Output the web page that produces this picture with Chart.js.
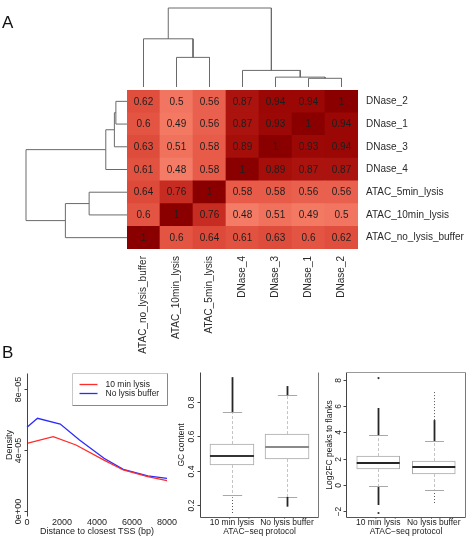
<!DOCTYPE html>
<html>
<head>
<meta charset="utf-8">
<title>ATAC vs DNase</title>
<script src="https://cdn.jsdelivr.net/npm/chart.js@4.4.1/dist/chart.umd.min.js"></script>
<style>
  body { margin: 0; background: #fff; }
  #fig { position: relative; width: 471px; height: 539px; overflow: hidden; font-family: "Liberation Sans", Arial, sans-serif; }
  #fig canvas { position: absolute; }
  .panel { position: absolute; left: 2px; font-size: 17px; line-height: 17px; color: #111; }
</style>
</head>
<body>
<div id="fig">
  <canvas id="heat" width="471" height="362" style="left:0;top:0"></canvas>
  <canvas id="topTree" width="231" height="92" style="left:127px;top:0"></canvas>
  <canvas id="sideTree" width="127" height="159" style="left:0;top:90px"></canvas>
  <canvas id="dens" width="180" height="174" style="left:0;top:365px"></canvas>
  <canvas id="gc" width="165" height="174" style="left:160px;top:365px"></canvas>
  <canvas id="fc" width="151" height="174" style="left:320px;top:365px"></canvas>
  <div class="panel" style="top:14px">A</div>
  <div class="panel" style="top:344px">B</div>
</div>
<script>
const fam = '"Liberation Sans", Arial, sans-serif'
Chart.defaults.font.family = fam

// ---- panel A: correlation heatmap ----
const colLabels = ["ATAC_no_lysis_buffer", "ATAC_10min_lysis", "ATAC_5min_lysis", "DNase_4", "DNase_3", "DNase_1", "DNase_2"]
const rowLabels = ["DNase_2", "DNase_1", "DNase_3", "DNase_4", "ATAC_5min_lysis", "ATAC_10min_lysis", "ATAC_no_lysis_buffer"]
const corrRows = [
  [0.62, 0.5, 0.56, 0.87, 0.94, 0.94, 1],
  [0.6, 0.49, 0.56, 0.87, 0.93, 1, 0.94],
  [0.63, 0.51, 0.58, 0.89, 1, 0.93, 0.94],
  [0.61, 0.48, 0.58, 1, 0.89, 0.87, 0.87],
  [0.64, 0.76, 1, 0.58, 0.58, 0.56, 0.56],
  [0.6, 1, 0.76, 0.48, 0.51, 0.49, 0.5],
  [1, 0.6, 0.64, 0.61, 0.63, 0.6, 0.62]
]
// hclust merges: strings are leaves, numbers point to an earlier merge (1-based)
const treeMerges = [["DNase_1", "DNase_2"], ["DNase_3", 1], ["DNase_4", 2], ["ATAC_10min_lysis", "ATAC_5min_lysis"], ["ATAC_no_lysis_buffer", 4], [5, 3]]
const treeHeights = [0.11, 0.125, 0.21, 0.375, 0.61, 1]

// ---- panel B: density of distance to TSS ----
const densSeries = ["10 min lysis", "No lysis buffer"]
const distRed = [0, 1500, 2800, 4400, 5500, 6900, 8000]
const densRed = [4.44e-5, 4.87e-5, 4.33e-5, 3.34e-5, 2.69e-5, 2.25e-5, 1.99e-5]
const distBlue = [0, 600, 1900, 3000, 4400, 5500, 6900, 8000]
const densBlue = [5.49e-5, 6.08e-5, 5.7e-5, 4.66e-5, 3.46e-5, 2.73e-5, 2.31e-5, 2.14e-5]
const densTicks = [0, 4e-5, 8e-5]
const densTickLabels = ["0e+00", "4e\u221205", "8e\u221205"]
const distTicks = [0, 2000, 4000, 6000, 8000]
const distTickLabels = ["0", "2000", "4000", "6000", "8000"]

// ---- panel B: box plots ----
const protocols = ["10 min lysis", "No lysis buffer"]
const gcQuart = [[0.433, 0.555], [0.468, 0.613]]
const gcMedian = [0.485, 0.538]
const gcWhisker = [[0.26, 0.742], [0.247, 0.84]]
const gcDense = [[[0.742, 0.945]], [[0.84, 0.893], [0.19, 0.247]]]
const gcSparse = [[[0.153, 0.245]], []]
const gcPoints = [[], []]
const gcTicks = [0.2, 0.4, 0.6, 0.8]
const gcTickLabels = ["0.2", "0.4", "0.6", "0.8"]

const fcQuart = [[1.22, 2.2], [0.84, 1.83]]
const fcMedian = [1.67, 1.37]
const fcWhisker = [[-0.1, 3.8], [-0.4, 3.35]]
const fcDense = [[[3.8, 5.86], [-1.52, -0.15]], [[3.35, 4.94]]]
const fcSparse = [[], [[4.94, 7.2], [-1.37, -0.61]]]
const fcPoints = [[8.14, -2.13], []]
const fcTicks = [-2, 0, 2, 4, 6, 8]
const fcTickLabels = ["\u22122", "0", "2", "4", "6", "8"]

const heatStops = [[0.48, [244, 124, 102]], [0.6, [228, 84, 66]], [0.76, [198, 44, 34]], [0.9, [164, 12, 8]], [1, [138, 0, 0]]]

function heatColor(v) {
  for (let i = 1; i < heatStops.length; i++) {
    const [v0, c0] = heatStops[i - 1], [v1, c1] = heatStops[i]
    if (v <= v1 || i === heatStops.length - 1) {
      const t = Math.max(0, Math.min(1, (v - v0) / (v1 - v0)))
      const c = c0.map((a, j) => Math.round(a + (c1[j] - a) * t))
      return `rgb(${c.join(",")})`
    }
  }
}

function text(ctx, s, x, y, opt) {
  ctx.save()
  ctx.font = opt.font
  ctx.fillStyle = opt.color || "#222"
  ctx.textAlign = opt.align || "center"
  ctx.textBaseline = "middle"
  ctx.translate(x, y)
  if (opt.rot) ctx.rotate(opt.rot)
  ctx.fillText(s, 0, 0)
  ctx.restore()
}

function seg(ctx, x0, y0, x1, y1, color, lw, dash) {
  ctx.save()
  ctx.strokeStyle = color
  ctx.lineWidth = lw || 1
  ctx.setLineDash(dash || [])
  ctx.beginPath()
  ctx.moveTo(x0, y0)
  ctx.lineTo(x1, y1)
  ctx.stroke()
  ctx.restore()
}

function baseOpts(pad, scales) {
  return {
    responsive: false,
    animation: false,
    events: [],
    layout: { padding: pad },
    plugins: { legend: { display: false }, tooltip: { enabled: false } },
    scales
  }
}

// heatmap: one stacked bar per cell, bottom row first
const heatLabels = {
  id: "heatLabels",
  afterDatasetsDraw(chart) {
    const { ctx, chartArea: a, scales: { x, y } } = chart
    chart.data.datasets.forEach((ds, k) => {
      chart.getDatasetMeta(k).data.forEach((bar, c) => {
        const p = bar.getProps(["x", "y", "base"], true)
        text(ctx, String(ds.corr[c]), p.x, (p.y + p.base) / 2 + 0.5, { font: "10px " + fam, color: "#1e1e1e" })
      })
    })
    rowLabels.forEach((r, i) => {
      text(ctx, r, a.right + 8, y.getPixelForValue(rowLabels.length - i - 0.5), { font: "10px " + fam, align: "left", color: "#2a2a2a" })
    })
    colLabels.forEach((c, i) => {
      text(ctx, c, x.getPixelForValue(i), a.bottom + 7, { font: "10px " + fam, align: "right", color: "#2a2a2a", rot: -Math.PI / 2 })
    })
  }
}

new Chart(document.getElementById("heat"), {
  type: "bar",
  data: {
    labels: colLabels,
    datasets: rowLabels.slice().reverse().map(row => {
      const vals = corrRows[rowLabels.indexOf(row)]
      return {
        label: row,
        corr: vals,
        data: vals.map(() => 1),
        backgroundColor: vals.map(heatColor),
        borderWidth: 0,
        barPercentage: 1,
        categoryPercentage: 1
      }
    })
  },
  options: baseOpts({ left: 127, top: 90, right: 113, bottom: 113 }, {
    x: { stacked: true, display: false },
    y: { stacked: true, min: 0, max: rowLabels.length, display: false }
  }),
  plugins: [heatLabels]
})

// dendrograms
function treeLinks(order) {
  const pos = [], hgt = []
  const node = n => typeof n === "string" ? [order.indexOf(n), 0] : [pos[n - 1], hgt[n - 1]]
  return treeMerges.map((m, i) => {
    const [pa, ha] = node(m[0]), [pb, hb] = node(m[1]), h = treeHeights[i]
    pos.push((pa + pb) / 2)
    hgt.push(h)
    return [[pa, ha], [pa, h], [pb, h], [pb, hb]]
  })
}

const treeLine = { showLine: true, pointRadius: 0, borderColor: "#6a6a6a", borderWidth: 1, tension: 0, clip: false }

new Chart(document.getElementById("topTree"), {
  type: "scatter",
  data: { datasets: treeLinks(colLabels).map(l => ({ ...treeLine, data: l.map(([p, h]) => ({ x: p, y: h })) })) },
  options: baseOpts({ left: 0, right: 0, top: 8, bottom: 5 }, {
    x: { type: "linear", min: -0.5, max: colLabels.length - 0.5, display: false },
    y: { type: "linear", min: 0, max: 1, display: false }
  })
})

new Chart(document.getElementById("sideTree"), {
  type: "scatter",
  data: { datasets: treeLinks(rowLabels).map(l => ({ ...treeLine, data: l.map(([p, h]) => ({ x: h, y: p })) })) },
  options: baseOpts({ left: 26, right: 0, top: 0, bottom: 0 }, {
    x: { type: "linear", min: 0, max: 1, reverse: true, display: false },
    y: { type: "linear", min: -0.5, max: rowLabels.length - 0.5, reverse: true, display: false }
  })
})

// R-like axes drawn on the chart's own scales
function rAxes(set) {
  return {
    id: "rAxes",
    afterDraw(chart) {
      const { ctx, chartArea: a, scales: { x, y } } = chart
      const L = Math.round(a.left) + 0.5, R = Math.round(a.right) - 0.5
      const T = Math.round(a.top) + 0.5, B = Math.round(a.bottom) - 0.5
      const f = set.font
      seg(ctx, L, T, L, B, "#444")
      if (set.frame.includes("b")) seg(ctx, L, B, R, B, "#555")
      if (set.frame.includes("r")) seg(ctx, R, T, R, B, "#777")
      if (set.frame.includes("t")) seg(ctx, L, T, R, T, "#999")
      set.yTicks.forEach((v, i) => {
        const py = Math.round(y.getPixelForValue(v)) + 0.5
        seg(ctx, L - 3, py, L, py, "#444")
        text(ctx, set.yLabels[i], a.left - set.yLabOff, py, { font: f, rot: -Math.PI / 2 })
      })
      text(ctx, set.yTitle, a.left - set.yTitleOff, (a.top + a.bottom) / 2, { font: f, rot: -Math.PI / 2 })
      set.xTicks.forEach((v, i) => {
        text(ctx, set.xLabels[i], x.getPixelForValue(v), a.bottom + set.xLabOff, { font: f })
      })
      text(ctx, set.xTitle, (a.left + a.right) / 2, a.bottom + set.xTitleOff, { font: f })
    }
  }
}

const densLegend = {
  id: "densLegend",
  afterDraw(chart) {
    const { ctx, chartArea: a } = chart
    const right = Math.round(a.right) + 0.5, left = right - 95, top = Math.round(a.top) + 0.5, bottom = top + 32
    ctx.save()
    ctx.fillStyle = "#fff"
    ctx.fillRect(left, top, right - left, bottom - top)
    ctx.restore()
    seg(ctx, left, top, right, top, "#c8c8c8")
    seg(ctx, left, top, left, bottom, "#c8c8c8")
    seg(ctx, right, top, right, bottom, "#888")
    seg(ctx, left, bottom, right, bottom, "#888")
    chart.data.datasets.forEach((ds, i) => {
      const yy = top + 11 + i * 9
      seg(ctx, left + 7, yy, left + 25, yy, ds.borderColor, 1.3)
      text(ctx, ds.label, left + 33, yy, { font: "8.5px " + fam, align: "left", color: "#222" })
    })
  }
}

const curve = { showLine: true, pointRadius: 0, borderWidth: 1.3, tension: 0, clip: false }

new Chart(document.getElementById("dens"), {
  type: "scatter",
  data: {
    datasets: [
      { ...curve, label: densSeries[0], borderColor: "#ff2b2b", data: distRed.map((d, i) => ({ x: d, y: densRed[i] })) },
      { ...curve, label: densSeries[1], borderColor: "#2b2bff", data: distBlue.map((d, i) => ({ x: d, y: densBlue[i] })) }
    ]
  },
  options: baseOpts({ left: 27, right: 13, top: 8, bottom: 22 }, {
    x: { type: "linear", min: 0, max: 8000, display: false },
    y: { type: "linear", min: -0.393e-5, max: 9.05e-5, display: false }
  }),
  plugins: [densLegend, rAxes({
    font: "9px " + fam, frame: "l",
    yTicks: densTicks, yLabels: densTickLabels, yLabOff: 8, yTitle: "Density", yTitleOff: 17,
    xTicks: distTicks, xLabels: distTickLabels, xLabOff: 6, xTitle: "Distance to closest TSS (bp)", xTitleOff: 15
  })]
})

function boxParts(set) {
  return {
    id: "boxParts",
    afterDatasetsDraw(chart) {
      const { ctx, scales: { y } } = chart
      const py = v => y.getPixelForValue(v)
      chart.getDatasetMeta(0).data.forEach((bar, i) => {
        const cx = Math.round(bar.x) + 0.5, w = bar.width
        const [q1, q3] = set.quart[i], [lo, hi] = set.whisker[i]
        seg(ctx, cx, py(q3), cx, py(hi), "#c4c4c4", 1, [3, 2])
        seg(ctx, cx, py(q1), cx, py(lo), "#c4c4c4", 1, [3, 2])
        seg(ctx, cx - w * 0.22, Math.round(py(hi)) + 0.5, cx + w * 0.22, Math.round(py(hi)) + 0.5, "#a8a8a8")
        seg(ctx, cx - w * 0.22, Math.round(py(lo)) + 0.5, cx + w * 0.22, Math.round(py(lo)) + 0.5, "#a8a8a8")
        set.dense[i].forEach(([a, b]) => seg(ctx, cx, py(a), cx, py(b), "#262626", 1.8))
        set.sparse[i].forEach(([a, b]) => seg(ctx, cx, py(a), cx, py(b), "#555", 1, [1, 2]))
        set.points[i].forEach(v => {
          ctx.save()
          ctx.fillStyle = "#333"
          ctx.beginPath()
          ctx.arc(cx, py(v), 1.1, 0, 2 * Math.PI)
          ctx.fill()
          ctx.restore()
        })
        seg(ctx, bar.x - w / 2, py(set.median[i]), bar.x + w / 2, py(set.median[i]), set.medColor[i], 2)
      })
    }
  }
}

function boxChart(id, pad, yRange, thick, set, axes) {
  new Chart(document.getElementById(id), {
    type: "bar",
    data: {
      datasets: [{
        data: protocols.map((g, i) => ({ x: i + 1, y: set.quart[i] })),
        backgroundColor: "#fff",
        borderColor: "#a8a8a8",
        borderWidth: 1,
        borderSkipped: false,
        barThickness: thick
      }]
    },
    options: baseOpts(pad, {
      x: { type: "linear", min: 0.42, max: 2.58, offset: false, display: false },
      y: { type: "linear", min: yRange[0], max: yRange[1], display: false }
    }),
    plugins: [boxParts(set), rAxes(axes)]
  })
}

boxChart("gc", { left: 40, right: 6, top: 7, bottom: 21 }, [0.124, 0.975], 44,
  { quart: gcQuart, median: gcMedian, whisker: gcWhisker, dense: gcDense, sparse: gcSparse, points: gcPoints, medColor: ["#333", "#8a8a8a"] },
  { font: "8.5px " + fam, frame: "lbr", yTicks: gcTicks, yLabels: gcTickLabels, yLabOff: 8, yTitle: "GC content", yTitleOff: 18,
    xTicks: [1, 2], xLabels: protocols, xLabOff: 5, xTitle: "ATAC\u2212seq protocol", xTitleOff: 14 })

boxChart("fc", { left: 26, right: 5, top: 7, bottom: 21 }, [-2.51, 8.6], 43,
  { quart: fcQuart, median: fcMedian, whisker: fcWhisker, dense: fcDense, sparse: fcSparse, points: fcPoints, medColor: ["#262626", "#262626"] },
  { font: "8.5px " + fam, frame: "lbrt", yTicks: fcTicks, yLabels: fcTickLabels, yLabOff: 7, yTitle: "Log2FC peaks to flanks", yTitleOff: 16,
    xTicks: [1, 2], xLabels: protocols, xLabOff: 5, xTitle: "ATAC\u2212seq protocol", xTitleOff: 14 })
</script>
</body>
</html>
